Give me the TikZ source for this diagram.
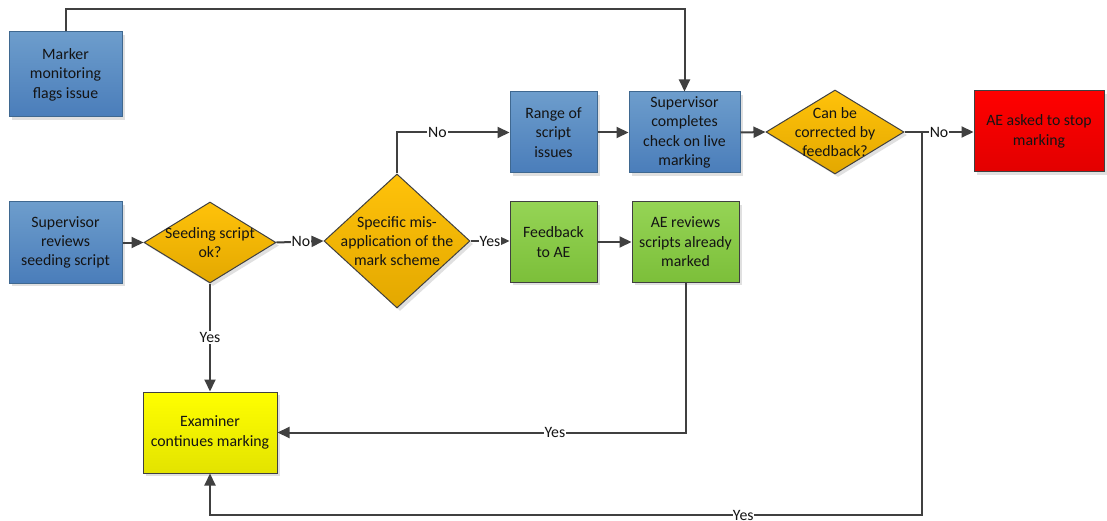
\documentclass[tikz,border=0pt]{standalone}
\usepackage{fontspec}
\setmainfont{Carlito}
\usetikzlibrary{arrows.meta,shapes.geometric,shadows,calc}
\definecolor{lineC}{HTML}{404040}
\definecolor{blueT}{HTML}{6D9DCC}
\definecolor{blueB}{HTML}{4A7DBA}
\definecolor{blueD}{HTML}{3F6890}
\definecolor{greenT}{HTML}{95D455}
\definecolor{greenB}{HTML}{7CBF3A}
\definecolor{yelT}{HTML}{FFFF00}
\definecolor{yelB}{HTML}{E3E300}
\definecolor{orT}{HTML}{FFC20A}
\definecolor{orB}{HTML}{E3A800}
\definecolor{redT}{HTML}{FF0000}
\definecolor{redB}{HTML}{E20000}
\definecolor{txt}{HTML}{141414}
\tikzset{
  base/.style={font=\fontsize{15.8}{19.4}\selectfont, text=txt, align=center, inner sep=0pt,
    drop shadow={shadow xshift=3pt, shadow yshift=-3pt, fill=black!12, opacity=1}},
  bluebox/.style={base, rectangle, draw=blueD, line width=1pt, top color=blueT, bottom color=blueB},
  greenbox/.style={base, rectangle, draw=lineC, line width=1pt, top color=greenT, bottom color=greenB},
  yelbox/.style={base, rectangle, draw=lineC, line width=1pt, top color=yelT, bottom color=yelB},
  redbox/.style={base, rectangle, draw=lineC, line width=1pt, top color=redT, bottom color=redB},
  decision/.style={base, diamond, draw=lineC, line width=1pt, top color=orT, bottom color=orB},
  conn/.style={draw=lineC, line width=2pt, -{Triangle[length=12pt,width=11pt]}},
  lab/.style={font=\fontsize{15.8}{19.4}\selectfont, text=txt, fill=white, inner sep=1pt},
  dtext/.style={font=\fontsize{15.8}{19.4}\selectfont, text=txt, align=center, inner sep=0pt}
}
\begin{document}
\begin{tikzpicture}[x=1pt,y=-1pt]
\useasboundingbox[fill=white] (0,0) rectangle (1107,521);
% boxes
\node[bluebox, minimum width=113pt, minimum height=85pt] (marker) at (65.5,74.5) {Marker\\monitoring\\flags issue};
\node[bluebox, minimum width=113pt, minimum height=81pt] (suprev) at (65.5,242.5) {Supervisor\\reviews\\seeding script};
\node[bluebox, minimum width=87pt, minimum height=81pt] (range) at (553.5,132.5) {Range of\\script\\issues};
\node[bluebox, minimum width=111pt, minimum height=81pt] (supchk) at (684.5,132.5) {Supervisor\\completes\\check on live\\marking};
\node[greenbox, minimum width=87pt, minimum height=80pt] (feedback) at (553.5,242) {Feedback\\to AE};
\node[greenbox, minimum width=107pt, minimum height=80pt] (aerev) at (685.5,242) {AE reviews\\scripts already\\marked};
\node[yelbox, minimum width=134pt, minimum height=81pt] (exam) at (210,432.5) {Examiner\\continues marking};
\node[redbox, minimum width=130pt, minimum height=81pt] (stop) at (1039,131.5) {AE asked to stop\\marking};
% decisions
\node[decision, minimum width=132pt, minimum height=81pt] (seed) at (210,242.5) {};
\node[dtext] at (seed) {Seeding script\\ok?};
\node[decision, minimum width=146pt, minimum height=134pt] (spec) at (397,241) {};
\node[dtext] at (spec) {Specific mis-\\application of the\\mark scheme};
\node[decision, minimum width=138pt, minimum height=84pt] (canbe) at (835,132) {};
\node[dtext] at (canbe) {Can be\\corrected by\\feedback?};
% connector helpers
\coordinate (top) at (0,9);
\coordinate (noup) at (0,132.5);
\coordinate (br) at (922,515);
% connectors
\draw[conn] (marker.north) |- (top -| supchk.north) -- (supchk.north);
\draw[conn] (range.east) -- (supchk.west);
\draw[conn] (supchk.east) -- (canbe.west);
\draw[conn] (canbe.east) -- node[lab, pos=0.50] {No} (canbe.east -| stop.west);
\draw[conn] (canbe.east) -| (br) -- node[lab, pos=0.251, inner sep=0pt, text depth=0pt, anchor=base, yshift=-5pt] {Yes} (br -| exam.south) -- (exam.south);
\draw[conn] (suprev.east) -- (seed.west);
\draw[conn] (seed.east) -- node[lab, pos=0.52] {No} (spec.west);
\draw[conn] (spec.east) -- node[lab, pos=0.5] {Yes} (spec.east -| feedback.west);
\draw[conn] (spec.north) |- node[lab, pos=0.68] {No} (noup -| range.west);
\draw[conn] (feedback.east) -- (feedback.east -| aerev.west);
\draw[conn] (aerev.south) |- node[lab, pos=0.66] {Yes} (exam.east);
\draw[conn] (seed.south) -- node[lab, pos=0.5] {Yes} (exam.north);
\end{tikzpicture}
\end{document}
